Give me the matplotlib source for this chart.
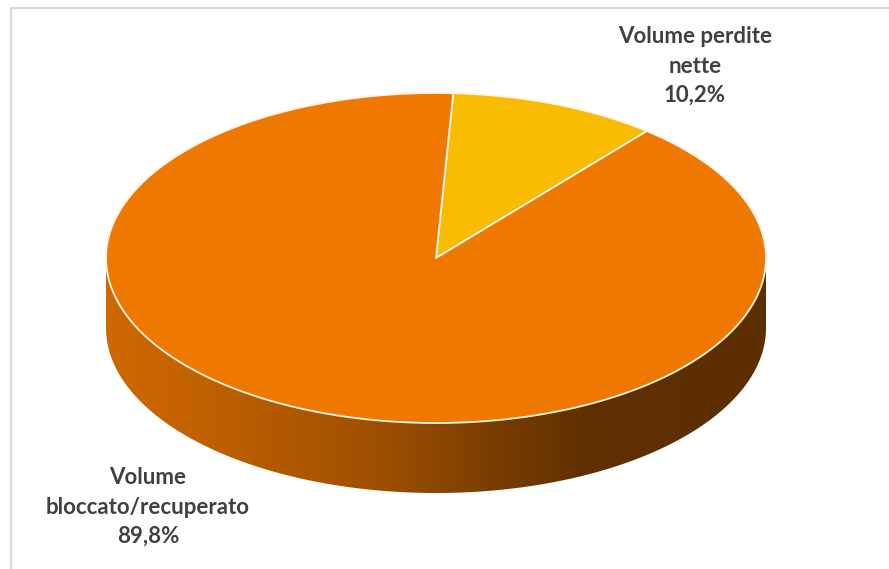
import numpy as np
import matplotlib.pyplot as plt
from matplotlib.patches import Polygon
from matplotlib.colors import to_rgb

labels = ["Volume perdite\nnette", "Volume\nbloccato/recuperato"]
shares = [10.2, 89.8]
colors = ["#F8BB00", "#EE7800"]
label_pos = [(695, 66), (148, 507)]

# pie geometry in pixel units
cx, cy = 436, 258
rx, ry = 330, 165
depth = 70
start = 87.0

fig = plt.figure(figsize=(8.89, 5.69), dpi=100)
ax = fig.add_axes([0, 0, 1, 1])
ax.set_xlim(0, 889)
ax.set_ylim(569, 0)
ax.axis("off")

# chart frame (only left and top edges fall inside the image)
ax.plot([11, 11, 889], [569, 8, 8], color="#D9D9D9", lw=1.5, zorder=0)


def arc(t0, t1, dy=0, n=200):
    t = np.radians(np.linspace(t0, t1, n))
    return np.column_stack([cx + rx * np.cos(t), cy + dy - ry * np.sin(t)])


# angular ranges, clockwise from the start angle
fracs = np.array(shares) / sum(shares)
ends = start - 360 * np.cumsum(fracs)
begins = np.concatenate([[start], ends[:-1]])

# shading of the side wall, darker toward the right
shade_x = [106, 200, 300, 400, 500, 590, 766]
shade_f = [0.87, 0.81, 0.73, 0.64, 0.50, 0.40, 0.39]
gx = np.linspace(cx - rx, cx + rx, 400)
gf = np.interp(gx, shade_x, shade_f)

for t_hi, t_lo, col in zip(begins, ends, colors):
    # visible front side: angles between 180 and 360 (mod 360)
    for k in range(-2, 2):
        lo = max(t_lo, 180 + 360 * k)
        hi = min(t_hi, 360 + 360 * k)
        if hi <= lo:
            continue
        top = arc(lo, hi)
        bot = arc(hi, lo, dy=depth)
        verts = np.vstack([top, bot, top[:1]])
        clip = Polygon(verts, closed=True, facecolor="none", edgecolor="none")
        ax.add_patch(clip)
        rgb = np.array(to_rgb(col))
        img = (gf[None, :, None] * rgb[None, None, :]).clip(0, 1)
        im = ax.imshow(img, extent=[cx - rx, cx + rx, cy + ry + depth, cy - ry],
                       aspect="auto", interpolation="bilinear", zorder=1)
        im.set_clip_path(clip)

# top faces
for t_hi, t_lo, col in zip(begins, ends, colors):
    pts = np.vstack([[cx, cy], arc(t_hi, t_lo)])
    ax.add_patch(Polygon(pts, closed=True, facecolor=col, edgecolor="#FFF4E6",
                         lw=1.3, joinstyle="round", zorder=2))

for lab, share, (x, y) in zip(labels, shares, label_pos):
    txt = lab + "\n" + f"{share:.1f}".replace(".", ",") + "%"
    ax.text(x, y, txt, ha="center", va="center", fontsize=16,
            fontweight="bold", color="#404040", family=["Lato", "DejaVu Sans"],
            linespacing=1.48, zorder=3)

fig.savefig("out.png", dpi=100)
